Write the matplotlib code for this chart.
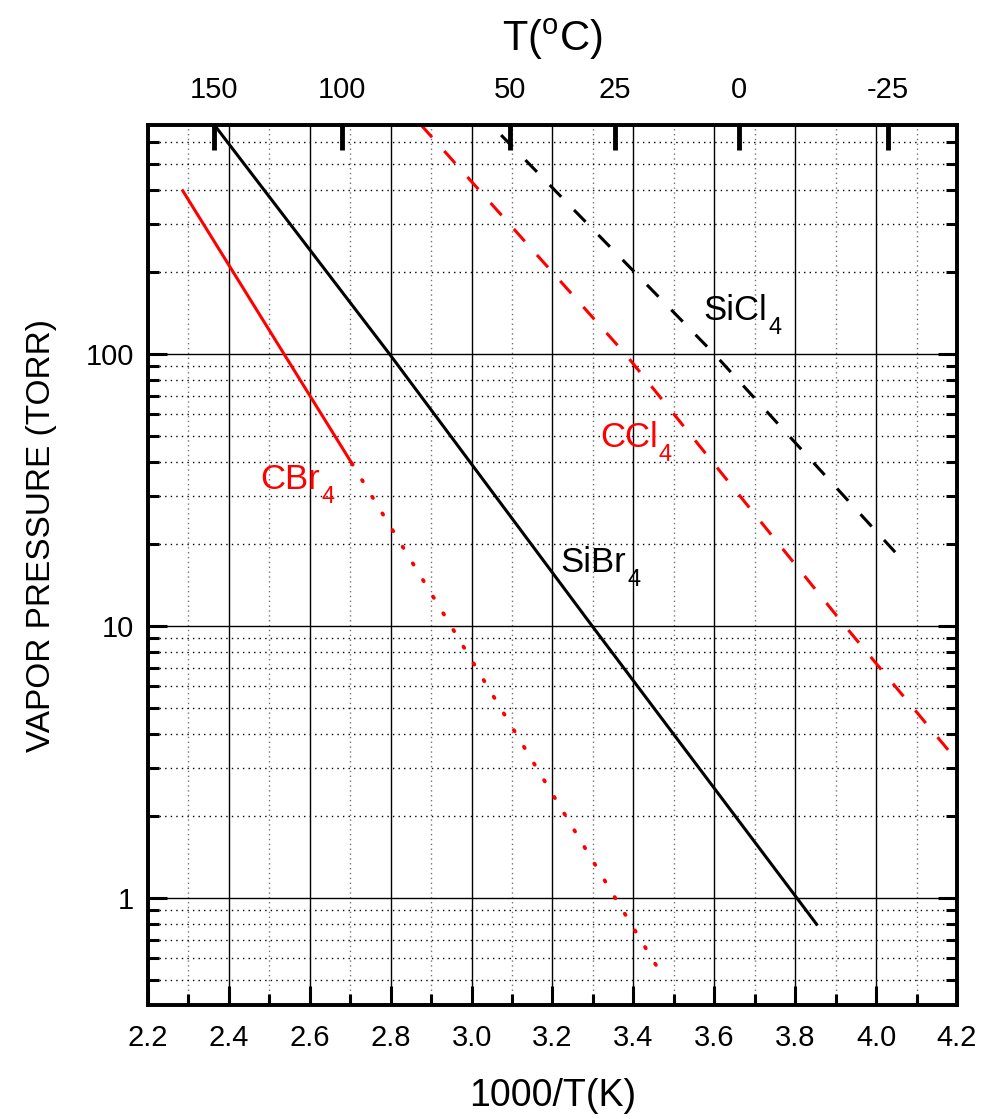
import matplotlib
matplotlib.use('Agg')
import matplotlib.pyplot as plt
import numpy as np
from matplotlib.ticker import FixedLocator, LogLocator, NullFormatter, MultipleLocator

plt.rcParams['font.family'] = ['Liberation Sans', 'DejaVu Sans']
plt.rcParams['mathtext.fontset'] = 'custom'
plt.rcParams['mathtext.rm'] = 'Liberation Sans'
plt.rcParams['mathtext.it'] = 'Liberation Sans:italic'
plt.rcParams['mathtext.bf'] = 'Liberation Sans:bold'

# 1000/T(K) vs vapor pressure (torr)
sibr4_x = [2.366, 2.797, 3.298, 3.804, 3.853]
sibr4_p = [689, 100, 10, 1.0, 0.80]

sicl4_x = [3.073, 3.600, 4.054]
sicl4_p = [638, 100, 18.2]

ccl4_x = [2.875, 3.380, 3.923, 4.200]
ccl4_p = [695, 100, 10, 3.2]

cbr4_x = [2.286, 2.704]
cbr4_p = [398, 39.6]
cbr4_ext_x = [2.704, 2.949, 3.355, 3.471]
cbr4_ext_p = [39.6, 10, 1.0, 0.52]

bottom_ticks = [2.2, 2.4, 2.6, 2.8, 3.0, 3.2, 3.4, 3.6, 3.8, 4.0, 4.2]
y_ticks = [1, 10, 100]
top_temps_c = [150, 100, 50, 25, 0, -25]

# label text, colour, anchor (x, p)
labels = [('SiCl', 'black', 3.572, 133.4),
          ('CCl', 'red', 3.317, 45.5),
          ('SiBr', 'black', 3.219, 15.8),
          ('CBr', 'red', 2.477, 31.9)]

fig = plt.figure(figsize=(9.81, 11.19), dpi=100)
ax = fig.add_axes([0.1509, 0.1019, 0.8246, 0.7864])

ax.plot(sibr4_x, sibr4_p, color='black', lw=2.2)
ax.plot(sicl4_x, sicl4_p, color='black', lw=2.2, linestyle=(0, (5.4, 6.0)))
ax.plot(ccl4_x, ccl4_p, color='red', lw=2.2, linestyle=(0, (5.4, 6.0)))
ax.plot(cbr4_x, cbr4_p, color='red', lw=2.2)
ax.plot(cbr4_ext_x, cbr4_ext_p, color='red', lw=2.7, linestyle=(0, (0.4, 4.8)),
        dash_capstyle='round')

ax.set_yscale('log')
ax.set_xlim(2.2, 4.2)
ax.set_ylim(0.404, 695)

ax.xaxis.set_major_locator(FixedLocator(bottom_ticks))
ax.set_xticklabels(['%.1f' % t for t in bottom_ticks])
ax.xaxis.set_minor_locator(MultipleLocator(0.1))
ax.yaxis.set_major_locator(FixedLocator(y_ticks))
ax.set_yticklabels([str(t) for t in y_ticks])
ax.yaxis.set_minor_locator(LogLocator(base=10, subs=np.arange(2, 10)))
ax.yaxis.set_minor_formatter(NullFormatter())

ax.grid(True, which='major', axis='both', color='black', lw=1.0, ls='-')
ax.grid(True, which='minor', axis='x', color='0.45', lw=1.0, ls=(0, (1, 2.5)))
ax.grid(True, which='minor', axis='y', color='black', lw=1.0, ls=(0, (1, 3)))
ax.set_axisbelow(True)

ax.tick_params(axis='both', which='major', direction='in', length=14, width=2.2,
               labelsize=21, top=False, right=True, pad=14)
ax.tick_params(axis='both', which='minor', direction='in', length=8, width=2.2,
               top=False, right=True)
ax.tick_params(axis='y', which='major', pad=10)
for s in ax.spines.values():
    s.set_linewidth(2.6)

ax.set_xlabel('1000/T(K)', fontsize=27)
ax.xaxis.set_label_coords(0.5, -0.083)
ax.set_ylabel('VAPOR PRESSURE (TORR)', fontsize=24)
ax.yaxis.set_label_coords(-0.112, 0.534)

for name, c, lx, lp in labels:
    t = ax.text(lx, lp, name, fontsize=25, color=c)
    ax.annotate('4', xy=(1, 0), xycoords=t, xytext=(1, -9),
                textcoords='offset points', fontsize=17, color=c,
                ha='left', va='bottom')

# top axis in degrees C
ax2 = ax.twiny()
ax2.set_xlim(ax.get_xlim())
ax2.set_xticks([1000.0 / (t + 273.15) for t in top_temps_c])
ax2.set_xticklabels([str(t) for t in top_temps_c], fontsize=21)
ax2.tick_params(axis='x', direction='in', length=18, width=3.5, pad=15)
ax2.set_xlabel(r'T($^{\rm o}$C)', fontsize=30, labelpad=18)
for s in ax2.spines.values():
    s.set_linewidth(2.6)

fig.savefig('out.png', dpi=100)
